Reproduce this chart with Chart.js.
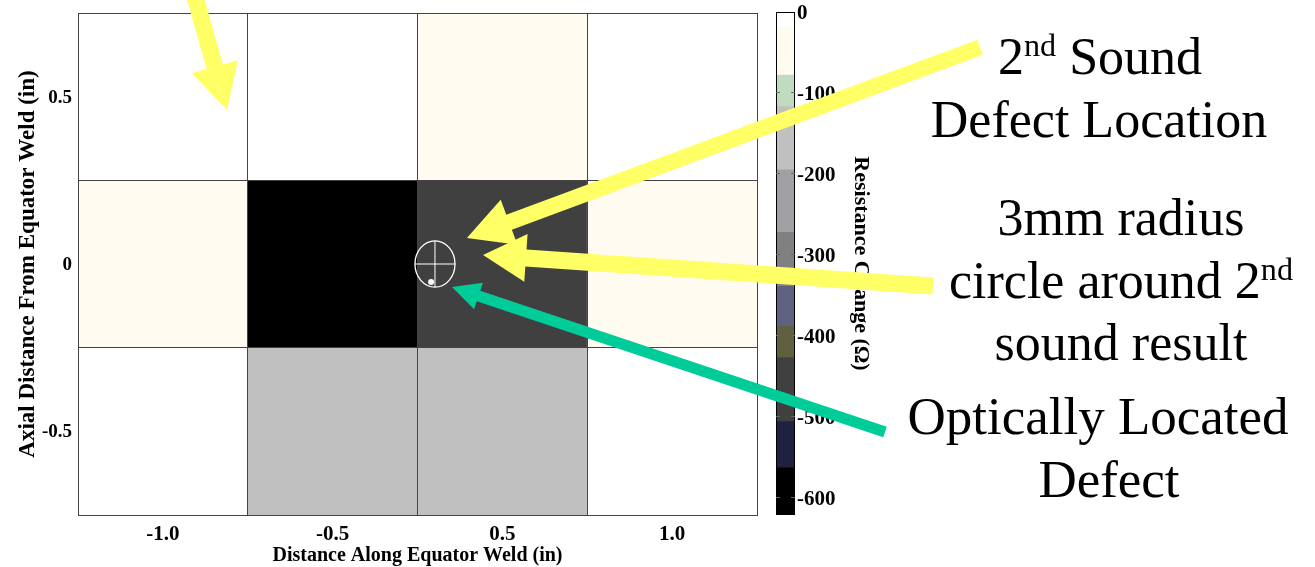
<!DOCTYPE html>
<html>
<head>
<meta charset="utf-8">
<script src="https://cdn.jsdelivr.net/npm/chart.js@4.4.1/dist/chart.umd.min.js"></script>
<style>
body { margin: 0; background: #fff; overflow: hidden; }
#wrap { position: relative; width: 1315px; height: 567px; }
#wrap canvas { position: absolute; left: 0; top: 0; }
.note { position: absolute; width: 500px; text-align: center; white-space: nowrap;
        font-family: "Liberation Serif", "Times New Roman", serif; font-size: 52px;
        line-height: 63px; color: #000; }
.note sup { font-size: 0.62em; vertical-align: 0.55em; line-height: 0; }
</style>
</head>
<body>
<div id="wrap">
  <canvas id="main" width="1315" height="567"></canvas>
  <canvas id="cbar" width="1315" height="567"></canvas>
  <div class="note" style="left:850px;top:25px">2<sup>nd</sup> Sound</div>
  <div class="note" style="left:849px;top:88px">Defect Location</div>
  <div class="note" style="left:871px;top:186px">3mm radius</div>
  <div class="note" style="left:871px;top:249px">circle around 2<sup>nd</sup></div>
  <div class="note" style="left:871px;top:311px">sound result</div>
  <div class="note" style="left:848px;top:385px;font-size:53px">Optically Located</div>
  <div class="note" style="left:859px;top:448px;font-size:53px">Defect</div>
</div>
<script>
// grid of cells
var xLabels = ['-1.0', '-0.5', '0.5', '1.0'];
var rowCenters = [0.5, 0, -0.5];
var resistanceTop = [-5, -8, -55, -6];
var resistanceMid = [-45, -600, -470, -50];
var resistanceBot = [-4, -160, -150, -7];
var yTickValues = [-0.75, -0.5, -0.25, 0, 0.25, 0.5, 0.75];
var yLabelValues = [-0.5, 0, 0.5];
var yLabelText = ['-0.5', '0', '0.5'];

// colour bar
var cbEdges = [0, -18, -77, -116, -194, -271, -338, -387, -426, -505, -562, -621];
var cbColors = ['#FFFFFF', '#FFFBF0', '#C0DCC0', '#C0C0C0', '#A0A0A4', '#808080',
                '#606080', '#606040', '#404040', '#202040', '#000000'];
var cbTicks = [0, -100, -200, -300, -400, -500, -600];

// arrows etc, in the main chart's data units (x = column index)
var arrows = [
    {from: [0.178, 0.819], to: [0.378, 0.460], color: '#FFFF66', w: 17, head: 45, half: 24},
    {from: [4.814, 0.648], to: [1.791, 0.078], color: '#FFFF66', w: 16, head: 45, half: 24},
    {from: [4.537, -0.066], to: [1.886, 0.027], color: '#FFFF66', w: 17, head: 43, half: 24},
    {from: [4.254, -0.502], to: [1.703, -0.069], color: '#00CC99', w: 11, head: 28, half: 14}
];
var ring = {x: 1.603, y: 0, rx: 0.118, ry: 0.069};
var dot = {x: 1.580, y: -0.054};

var serif = 'Liberation Serif';
Chart.defaults.color = '#000';

function colorFor(v) {
    for (var i = 0; i < cbColors.length; i++) {
        if (v <= cbEdges[i] && v >= cbEdges[i + 1]) return cbColors[i];
    }
    return '#000000';
}

var rows = [resistanceTop, resistanceMid, resistanceBot];

var mainChart = new Chart(document.getElementById('main'), {
    type: 'bar',
    data: {
        labels: xLabels,
        datasets: rows.map(function(vals, r) {
            return {
                label: 'row ' + rowCenters[r],
                data: xLabels.map(function() { return [rowCenters[r] - 0.25, rowCenters[r] + 0.25]; }),
                backgroundColor: vals.map(colorFor),
                borderWidth: 0,
                grouped: false,
                barPercentage: 1,
                categoryPercentage: 1
            };
        })
    },
    options: {
        responsive: false,
        animation: false,
        layout: { padding: { top: 13, right: 558, bottom: 0, left: 0 } },
        plugins: { legend: { display: false }, tooltip: { enabled: false } },
        scales: {
            x: {
                grid: { color: '#444', offset: true, drawTicks: false, z: 1 },
                border: { color: '#444', z: 1 },
                ticks: { font: { family: serif, size: 21, weight: 'bold' }, padding: 7 },
                title: {
                    display: true,
                    text: 'Distance Along Equator Weld (in)',
                    font: { family: serif, size: 20, weight: 'bold', lineHeight: 1 },
                    padding: { top: 0, bottom: 1 }
                },
                afterFit: function(s) { s.height = 52; s.paddingLeft = 0; s.paddingRight = 0; }
            },
            y: {
                min: -0.75,
                max: 0.75,
                afterBuildTicks: function(s) {
                    s.ticks = yTickValues.map(function(v) { return {value: v}; });
                },
                grid: {
                    drawTicks: false,
                    z: 1,
                    color: function(ctx) {
                        var v = ctx.tick ? Math.abs(ctx.tick.value) : 0;
                        return (v === 0.25 || v === 0.75) ? '#444' : 'rgba(0,0,0,0)';
                    }
                },
                border: { color: '#444', z: 1 },
                ticks: {
                    font: { family: serif, size: 19, weight: 'bold' },
                    padding: 6,
                    labelOffset: 1,
                    callback: function(v) {
                        var i = yLabelValues.indexOf(v);
                        return i < 0 ? '' : yLabelText[i];
                    }
                },
                title: {
                    display: true,
                    text: 'Axial Distance From Equator Weld (in)',
                    font: { family: serif, size: 23, weight: 'bold', lineHeight: 1.2 },
                    padding: { top: 14, bottom: 0 }
                },
                afterFit: function(s) { s.width = 78; s.paddingTop = 0; s.paddingBottom = 0; }
            }
        }
    }
});

function drawArrow(ctx, a, x, y) {
    var x0 = x.getPixelForValue(a.from[0]), y0 = y.getPixelForValue(a.from[1]);
    var x1 = x.getPixelForValue(a.to[0]), y1 = y.getPixelForValue(a.to[1]);
    var len = Math.hypot(x1 - x0, y1 - y0);
    var ux = (x1 - x0) / len, uy = (y1 - y0) / len;
    var nx = -uy, ny = ux;
    var bx = x1 - ux * a.head, by = y1 - uy * a.head;
    var hw = a.w / 2;
    ctx.beginPath();
    ctx.moveTo(x0 + nx * hw, y0 + ny * hw);
    ctx.lineTo(bx + nx * hw, by + ny * hw);
    ctx.lineTo(bx + nx * a.half, by + ny * a.half);
    ctx.lineTo(x1, y1);
    ctx.lineTo(bx - nx * a.half, by - ny * a.half);
    ctx.lineTo(bx - nx * hw, by - ny * hw);
    ctx.lineTo(x0 - nx * hw, y0 - ny * hw);
    ctx.closePath();
    ctx.fillStyle = a.color;
    ctx.fill();
}

var outline = {
    id: 'outline',
    afterDatasetsDraw: function(chart) {
        var a = chart.chartArea, ctx = chart.ctx;
        ctx.save();
        ctx.strokeStyle = '#000';
        ctx.lineWidth = 1;
        ctx.strokeRect(a.left + 0.5, a.top + 0.5, a.right - a.left - 1, a.bottom - a.top - 1);
        ctx.restore();
    }
};

var marks = {
    id: 'marks',
    afterDraw: function(chart) {
        var ctx = chart.ctx;
        var x = mainChart.scales.x, y = mainChart.scales.y;
        ctx.save();
        // circle and cross
        var cx = x.getPixelForValue(ring.x), cy = y.getPixelForValue(ring.y);
        var rx = x.getPixelForValue(ring.x + ring.rx) - cx;
        var ry = cy - y.getPixelForValue(ring.y + ring.ry);
        ctx.strokeStyle = '#fff';
        ctx.lineWidth = 1.3;
        ctx.beginPath();
        ctx.ellipse(cx, cy, rx, ry, 0, 0, Math.PI * 2);
        ctx.stroke();
        ctx.lineWidth = 1;
        ctx.beginPath();
        ctx.moveTo(cx - rx, cy); ctx.lineTo(cx + rx, cy);
        ctx.moveTo(cx, cy - ry); ctx.lineTo(cx, cy + ry);
        ctx.stroke();
        ctx.fillStyle = '#fff';
        ctx.beginPath();
        ctx.arc(x.getPixelForValue(dot.x), y.getPixelForValue(dot.y), 3, 0, Math.PI * 2);
        ctx.fill();
        arrows.forEach(function(a) { drawArrow(ctx, a, x, y); });
        ctx.restore();
    }
};

var cbChart = new Chart(document.getElementById('cbar'), {
    type: 'bar',
    data: {
        labels: ['Resistance Change'],
        datasets: cbColors.map(function(c, i) {
            return {
                data: [[cbEdges[i + 1], cbEdges[i]]],
                backgroundColor: c,
                borderWidth: 0,
                grouped: false,
                barPercentage: 1,
                categoryPercentage: 1
            };
        })
    },
    options: {
        responsive: false,
        animation: false,
        layout: { padding: { top: 12, right: 0, bottom: 52, left: 776 } },
        plugins: { legend: { display: false }, tooltip: { enabled: false } },
        scales: {
            x: { display: false },
            y: {
                position: 'right',
                min: cbEdges[cbEdges.length - 1],
                max: 0,
                afterBuildTicks: function(s) {
                    s.ticks = cbTicks.map(function(v) { return {value: v}; });
                },
                grid: {
                    drawTicks: false,
                    z: 1,
                    color: function(ctx) {
                        return ctx.tick && ctx.tick.value !== 0 ? '#666' : 'rgba(0,0,0,0)';
                    }
                },
                border: { display: false, dash: [4, 11] },
                ticks: { font: { family: serif, size: 21, weight: 'bold' }, padding: 2, labelOffset: 2 },
                title: {
                    display: true,
                    text: 'Resistance Change (\u03A9)',
                    font: { family: serif, size: 22, weight: 'bold', lineHeight: 1.2 },
                    padding: { top: 441, bottom: 0 }
                },
                afterFit: function(s) { s.width = 520; s.paddingTop = 0; s.paddingBottom = 0; }
            }
        }
    },
    plugins: [outline, marks]
});
</script>
</body>
</html>
